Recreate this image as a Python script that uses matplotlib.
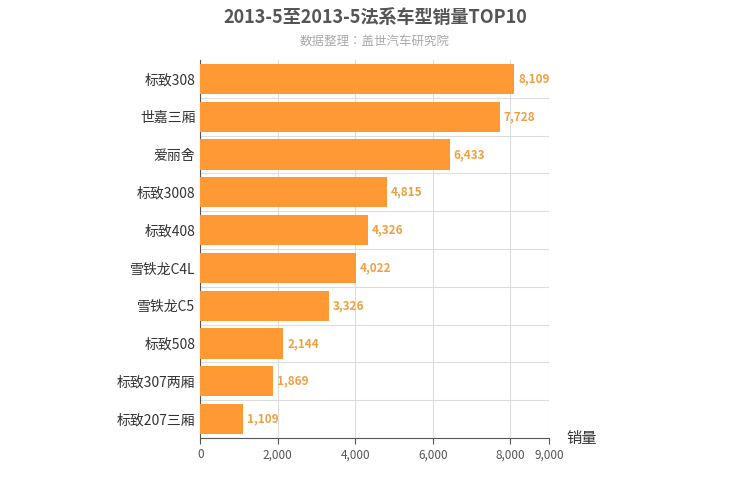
import matplotlib.pyplot as plt
from matplotlib import font_manager

# pick whichever CJK font the font manager actually knows about
cjk = [f.name for f in font_manager.fontManager.ttflist if 'CJK' in f.name]
plt.rcParams['font.family'] = (sorted(set(cjk))[:1] or ['Noto Sans CJK SC']) + ['DejaVu Sans']

models = ['标致308', '世嘉三厢', '爱丽舍', '标致3008', '标致408', '雪铁龙C4L',
          '雪铁龙C5', '标致508', '标致307两厢', '标致207三厢']
sales = [8109, 7728, 6433, 4815, 4326, 4022, 3326, 2144, 1869, 1109]
xticks = [0, 2000, 4000, 6000, 8000, 9000]

fig = plt.figure(figsize=(7.5, 5), dpi=100)
ax = fig.add_axes([0.267, 0.124, 0.465, 0.756])

pos = list(range(len(models)))[::-1]
ax.barh(pos, sales, height=0.8, color='#FF9933', zorder=3)
for p, v in zip(pos, sales):
    ax.text(v + 100, p, f'{v:,}', va='center', ha='left', fontsize=8.5,
            fontweight='bold', color='#F0A040', zorder=4)

ax.set_xlim(0, 9000)
ax.set_ylim(-0.5, len(models) - 0.5)
ax.set_yticks(pos)
ax.set_yticklabels(models, fontsize=10, color='#333333')
ax.set_xticks(xticks)
ax.set_xticklabels([f'{t:,}' for t in xticks], fontsize=8.5, color='#555555')
ax.set_yticks([p + 0.5 for p in range(len(models) - 1)], minor=True)
ax.grid(axis='x', color='#dddddd', zorder=0)
ax.grid(axis='y', which='minor', color='#dddddd', zorder=0)
ax.tick_params(axis='y', which='both', length=0)
ax.tick_params(axis='x', length=4, color='#555555')
for s in ['top', 'right']:
    ax.spines[s].set_visible(False)
ax.spines['left'].set_color('#555555')
ax.spines['bottom'].set_color('#555555')

fig.text(0.5, 0.965, '2013-5至2013-5法系车型销量TOP10', ha='center', va='center',
         fontsize=13, fontweight='bold', color='#555555')
fig.text(0.5, 0.918, '数据整理：盖世汽车研究院', ha='center', va='center',
         fontsize=9, color='#aaaaaa')
fig.text(0.775, 0.122, '销量', ha='center', va='center', fontsize=11, color='#333333')

fig.savefig('out.png', dpi=100)
